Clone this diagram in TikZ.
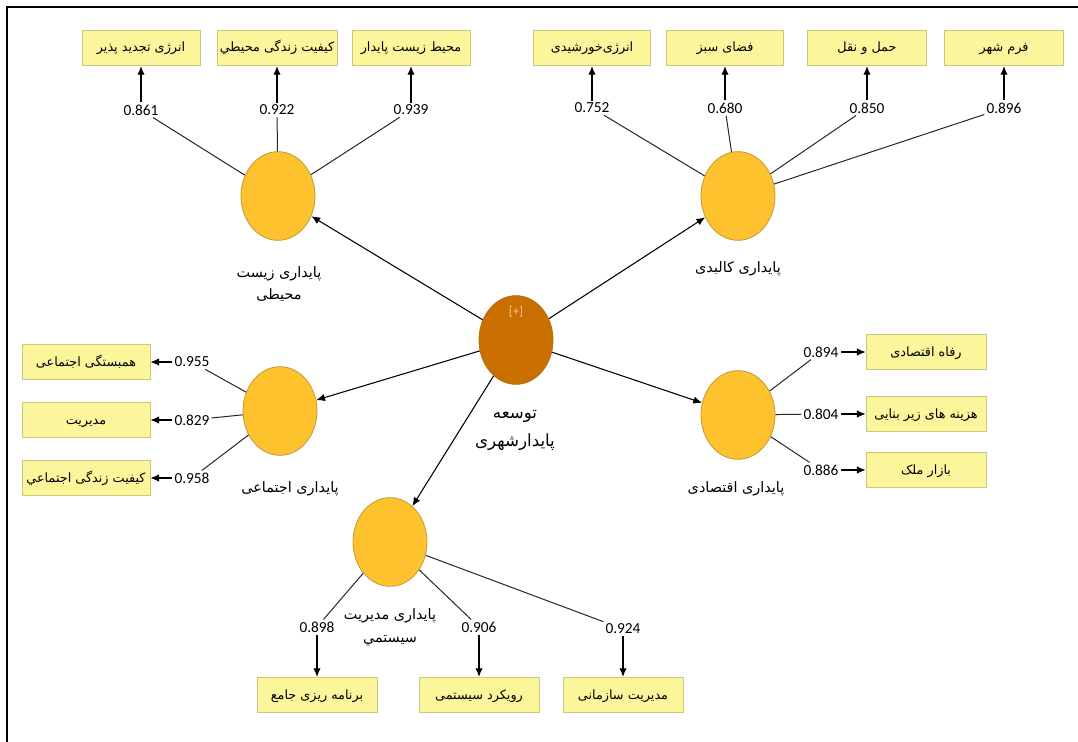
\documentclass[tikz,border=0pt]{standalone}
\usepackage{fontspec}
\setmainfont{Carlito}
\newfontfamily\arabicfont[Script=Arabic]{DejaVu Sans}
\TeXXeTstate=1
\usetikzlibrary{arrows.meta,shapes.geometric}
\newcommand\FaTxt[1]{{\arabicfont\beginR #1\endR}}
\definecolor{boxfill}{HTML}{FBF59B}
\definecolor{boxline}{HTML}{CFC77A}
\definecolor{lvfill}{HTML}{FDC22E}
\definecolor{lvline}{HTML}{C59A3A}
\definecolor{cfill}{HTML}{C96F00}
\definecolor{cline}{HTML}{B5700F}
\definecolor{plus}{HTML}{F6C98E}
\tikzset{
  ind/.style={draw=boxline, fill=boxfill, minimum height=26.5pt, inner sep=0pt,
    text height=6.5pt, text depth=0.5pt,
    font=\arabicfont\fontsize{9.6}{11}\selectfont, line width=0.6pt},
  lv/.style={ellipse, draw=lvline, fill=lvfill, minimum width=55.5pt,
    minimum height=66.5pt, inner sep=0pt, line width=0.6pt},
  num/.style={font=\fontsize{11.5}{13}\selectfont, inner sep=1.5pt},
  lab/.style={font=\arabicfont\fontsize{10.8}{16.5}\selectfont, align=center, inner sep=0pt},
  load/.style={draw=black!85, line width=0.75pt},
  arr/.style={draw=black, line width=0.8pt, -{Latex[length=6.5pt,width=5.5pt]}},
}
\begin{document}
\begin{tikzpicture}[x=0.75pt,y=-0.75pt]
\useasboundingbox (0,0) rectangle (1078,742);
\draw[line width=1.3pt] (7,742) -- (7,7) -- (1078,7);

% latent variables
\node[lv, fill=cfill, draw=cline] (C) at (516,340) {};
\node[font=\fontsize{9.5}{10}\selectfont, text=plus, inner sep=0pt] (plusC) at (516,312) {[+]};
\node[lv] (E) at (278,196) {};
\node[lv] (P) at (738,196) {};
\node[lv] (S) at (280,411) {};
\node[lv] (Ec) at (738,415) {};
\node[lv] (M) at (390,542) {};

% labels
\node[lab] (lE) at (279,284) {\FaTxt{پایداری زیست}\\\FaTxt{محیطی}};
\node[lab] (lP) at (738,269) {\FaTxt{پایداری کالبدی}};
\node[lab] (lS) at (290,489) {\FaTxt{پایداری اجتماعی}};
\node[lab] (lEc) at (736,489) {\FaTxt{پایداری اقتصادی}};
\node[lab, font=\arabicfont\fontsize{10.8}{17}\selectfont] (lM) at (390,627) {\FaTxt{پایداری مدیریت}\\\FaTxt{سیستمي}};
\node[lab, font=\arabicfont\fontsize{12.5}{21}\selectfont] (lC) at (515,430) {\FaTxt{توسعه}\\\FaTxt{پایدارشهری}};

% structural arrows
\draw[arr] (C) -- (E);
\draw[arr] (C) -- (P);
\draw[arr] (C) -- (S);
\draw[arr] (C) -- (Ec);
\draw[arr] (C) -- (M);

% environmental indicators
\node[ind, minimum width=88.5pt] (e1) at (141,48) {\FaTxt{انرژی تجدید پذیر}};
\node[ind, minimum width=90pt] (e2) at (277,48) {\FaTxt{کیفیت زندگی محیطي}};
\node[ind, minimum width=88.5pt] (e3) at (411,48) {\FaTxt{محیط زیست پایدار}};
\node[num] (ne1) at (141,110) {0.861};
\node[num] (ne2) at (277,110) {0.922};
\node[num] (ne3) at (411,110) {0.939};
\foreach \i in {1,2,3} {\draw[load] (ne\i) -- (E); \draw[arr] (ne\i) -- (e\i);}

% physical indicators
\node[ind, minimum width=88pt] (p1) at (592,48) {\FaTxt{انرژی‌خورشیدی}};
\node[ind, minimum width=88pt] (p2) at (725,48) {\FaTxt{فضای سبز}};
\node[ind, minimum width=89pt] (p3) at (867,48) {\FaTxt{حمل و نقل}};
\node[ind, minimum width=89pt] (p4) at (1004,48) {\FaTxt{فرم شهر}};
\node[num] (np1) at (592,108) {0.752};
\node[num] (np2) at (725,108) {0.680};
\node[num] (np3) at (867,108) {0.850};
\node[num] (np4) at (1004,108) {0.896};
\foreach \i in {1,2,3,4} {\draw[load] (np\i) -- (P); \draw[arr] (np\i) -- (p\i);}

% social indicators
\node[ind, minimum width=96pt] (s1) at (86,362) {\FaTxt{همبستگی اجتماعی}};
\node[ind, minimum width=96pt] (s2) at (86,420) {\FaTxt{مدیریت}};
\node[ind, minimum width=96pt] (s3) at (86,478) {\FaTxt{کیفیت زندگی اجتماعي}};
\node[num] (ns1) at (192,362) {0.955};
\node[num] (ns2) at (192,420) {0.829};
\node[num] (ns3) at (192,478) {0.958};
\foreach \i in {1,2,3} {\draw[load] (ns\i) -- (S); \draw[arr] (ns\i) -- (s\i);}

% economic indicators
\node[ind, minimum width=90pt] (c1) at (926,352) {\FaTxt{رفاه اقتصادی}};
\node[ind, minimum width=90pt] (c2) at (926,414) {\FaTxt{هزینه های زیر بنایی}};
\node[ind, minimum width=90pt] (c3) at (926,470) {\FaTxt{بازار ملک}};
\node[num] (nc1) at (821,352) {0.894};
\node[num] (nc2) at (821,414) {0.804};
\node[num] (nc3) at (821,470) {0.886};
\foreach \i in {1,2,3} {\draw[load] (nc\i) -- (Ec); \draw[arr] (nc\i) -- (c\i);}

% management indicators
\node[ind, minimum width=90pt] (m1) at (317,695) {\FaTxt{برنامه ریزی جامع}};
\node[ind, minimum width=90pt] (m2) at (479,695) {\FaTxt{رویکرد سیستمی}};
\node[ind, minimum width=90pt] (m3) at (623,695) {\FaTxt{مدیریت سازمانی}};
\node[num] (nm1) at (317,627) {0.898};
\node[num] (nm2) at (479,627) {0.906};
\node[num] (nm3) at (623,629) {0.924};
\foreach \i in {1,2,3} {\draw[load] (nm\i) -- (M); \draw[arr] (nm\i) -- (m\i);}
\end{tikzpicture}
\end{document}
